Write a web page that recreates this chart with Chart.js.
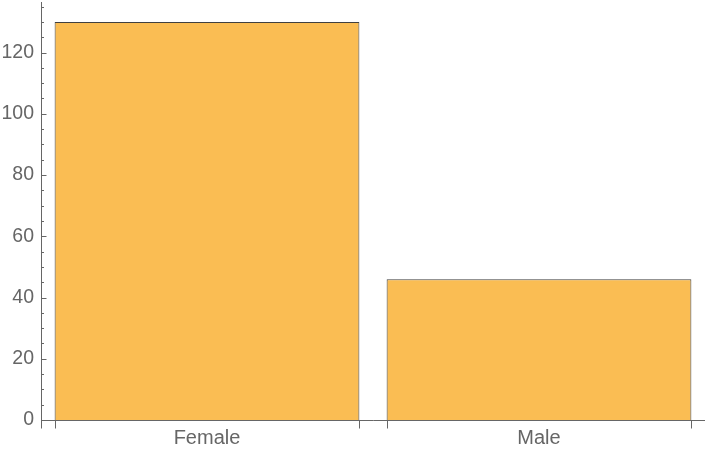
<!DOCTYPE html>
<html>
<head>
<meta charset="utf-8">
<script src="https://cdn.jsdelivr.net/npm/chart.js@4/dist/chart.umd.min.js"></script>
<style>
  html, body { margin: 0; padding: 0; background: #fff; }
  #wrap { width: 720px; height: 450px; }
</style>
</head>
<body>
<div id="wrap"><canvas id="barChart" width="720" height="450"></canvas></div>
<script>
// data
let categories = ["Female", "Male"];
let counts = [130, 46];
let yTicks = [0, 20, 40, 60, 80, 100, 120];

let axisColor = "#666666";
let barFill = "rgb(250,189,83)";
let barEdge = "#404040";

// axes + inward ticks drawn the Mathematica way
let axesPlugin = {
  id: "axesPlugin",
  afterDatasetsDraw(chart) {
    let ctx = chart.ctx;
    let area = chart.chartArea;
    let y = chart.scales.y;
    let x0 = Math.round(area.left) + 0.5;
    let y0 = Math.round(y.getPixelForValue(0)) + 0.5;
    ctx.save();
    ctx.strokeStyle = axisColor;
    ctx.lineWidth = 1;
    ctx.beginPath();
    // y axis
    ctx.moveTo(x0, area.top);
    ctx.lineTo(x0, y0 + 8);
    // x axis
    ctx.moveTo(x0, y0);
    ctx.lineTo(area.right, y0);
    // y ticks, major every 20, minor every 5
    for (let v = 0; v <= y.max; v += 5) {
      let py = Math.round(y.getPixelForValue(v)) + 0.5;
      let len = v % 20 === 0 ? 5 : 2.5;
      ctx.moveTo(x0, py);
      ctx.lineTo(x0 + len, py);
    }
    // x ticks at bar edges
    let meta = chart.getDatasetMeta(0);
    meta.data.forEach((bar) => {
      let half = bar.width / 2;
      [bar.x - half, bar.x + half].forEach((px) => {
        let p = Math.round(px) + 0.5;
        ctx.moveTo(p, y0);
        ctx.lineTo(p, y0 + 8);
      });
    });
    ctx.stroke();
    ctx.restore();
  }
};

let cfg = {
  type: "bar",
  data: {
    labels: categories,
    datasets: [
      {
        label: "count",
        data: counts,
        backgroundColor: barFill,
        borderColor: barEdge,
        borderWidth: 1,
        borderSkipped: "bottom",
        barPercentage: 1,
        categoryPercentage: 0.918,
      },
    ],
  },
  options: {
    responsive: false,
    animation: false,
    layout: { padding: { top: 2, right: 15, left: 0, bottom: 0 } },
    plugins: {
      legend: { display: false },
      tooltip: { enabled: false },
    },
    scales: {
      x: {
        grid: { display: false, drawTicks: false },
        border: { display: false },
        ticks: {
          color: axisColor,
          font: { family: "'Liberation Sans', Arial, sans-serif", size: 20 },
          padding: 6,
        },
        afterFit: (scale) => {
          scale.height = 30;
          scale.paddingLeft = 0;
          scale.paddingRight = 0;
        },
      },
      y: {
        min: 0,
        max: 136.5,
        grid: { display: false, drawTicks: false },
        border: { display: false },
        afterBuildTicks: (scale) => {
          scale.ticks = yTicks.map((v) => ({ value: v }));
        },
        ticks: {
          color: axisColor,
          font: { family: "'Liberation Sans', Arial, sans-serif", size: 19.5 },
          padding: 7,
        },
        afterFit: (scale) => {
          scale.width = 41;
          scale.paddingTop = 0;
          scale.paddingBottom = 0;
        },
      },
    },
  },
  plugins: [axesPlugin],
};

var barChart = new Chart(document.getElementById("barChart"), cfg);
</script>
</body>
</html>
